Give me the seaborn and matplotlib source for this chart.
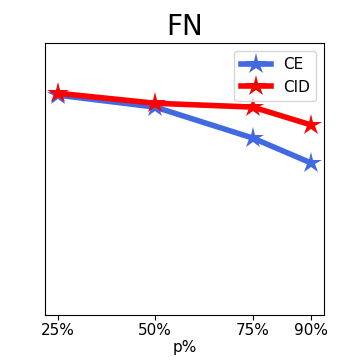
import matplotlib
matplotlib.use("Agg")
import matplotlib.pyplot as plt
import pandas as pd
import seaborn as sns

# values (y axis unlabelled, scaled 0..1)
p_values = [25, 50, 75, 90]
p_labels = ["25%", "50%", "75%", "90%"]
ce_values = [0.809, 0.765, 0.651, 0.559]
cid_values = [0.816, 0.779, 0.765, 0.699]

df = pd.DataFrame({
    "p": p_values * 2,
    "val": ce_values + cid_values,
    "method": ["CE"] * 4 + ["CID"] * 4,
})

fig, ax = plt.subplots(figsize=(3.6, 3.6), dpi=100)
fig.subplots_adjust(left=0.125, right=0.9, top=0.88, bottom=0.125)

sns.lineplot(data=df, x="p", y="val", hue="method", style="method",
             markers={"CE": "*", "CID": "*"}, dashes=False,
             palette={"CE": "royalblue", "CID": "red"},
             linewidth=4, markersize=16, markeredgewidth=0, ax=ax)

ax.set_ylim(0, 1)
ax.set_yticks([])
ax.set_xticks(p_values)
ax.set_xticklabels(p_labels, fontsize=11)
ax.tick_params(axis="x", pad=2)
ax.set_xlabel("p%", fontsize=11, labelpad=2)
ax.set_ylabel("")
ax.set_title("FN", fontsize=20)
ax.legend(loc="upper right", fontsize=11)

fig.savefig("out.png", dpi=100)
